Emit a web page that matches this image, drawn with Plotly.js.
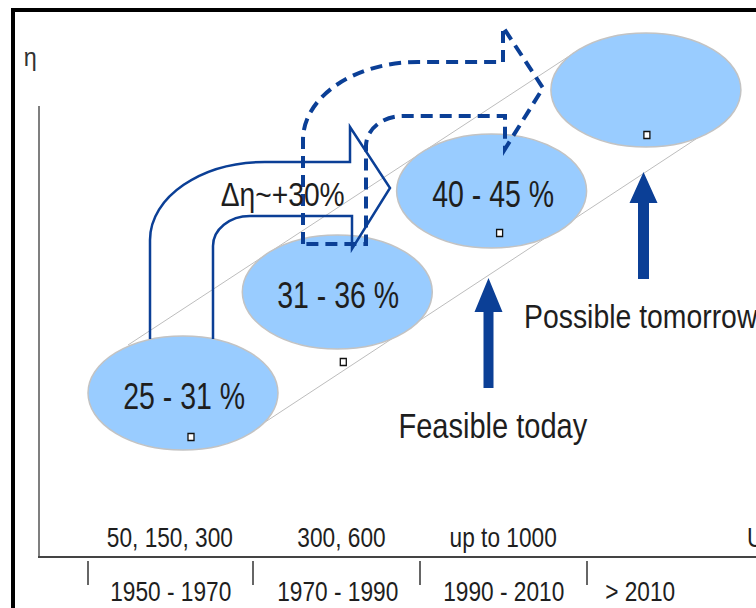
<!DOCTYPE html>
<html>
<head>
<meta charset="utf-8">
<script src="https://cdn.plot.ly/plotly-3.0.1.min.js"></script>
<style>html,body{margin:0;padding:0;background:#fff;}#chart{width:756px;height:608px;}</style>
</head>
<body>
<div id="chart"></div>
<script>
// ---- data ----
const periods = ["1950 - 1970", "1970 - 1990", "1990 - 2010", "> 2010"];
const capacities = ["50, 150, 300", "300, 600", "up to 1000", "U"];
const efficiencies = ["25 - 31 %", "31 - 36 %", "40 - 45 %", ""];
const deltaLabel = "\u0394\u03b7~+30%";
const axisLabel = "\u03b7";
const statusLabels = ["Feasible today", "Possible tomorrow"];

// ---- layout helpers (pixel-like coordinate system) ----
const FONT = "'Liberation Sans', Arial, sans-serif";
const BLUE = "#0B3F96";
const TXT = "#1e1e1e";
const ellCx = i => 183 + i * 154.3;
const ellCy = i => 393 - i * 101;
const RX = 95, RY = 57;
const markOff = [[8, 44], [6, 70], [8, 42], [1, 45]];
const periodCx = [170, 337, 503, 640];
const capCx = [170, 341, 503, 745];
const tickX = [88, 253, 420, 587];

const shapes = [];
const annotations = [];
const stretch = [];
function addText(x, y, text, size, sx, anchor, color) {
  annotations.push({x: x, y: y, text: text, showarrow: false,
    font: {family: FONT, size: size, color: color || TXT},
    xanchor: anchor || "center", yanchor: "middle"});
  stretch.push({sx: sx, anchor: anchor || "center"});
}

// frame
shapes.push({type: "rect", x0: 13, y0: 10, x1: 800, y1: 700, line: {color: "#000", width: 4}, layer: "above"});
// axes
shapes.push({type: "line", x0: 39, x1: 39, y0: 106, y1: 557, line: {color: "#555", width: 1.5}});
shapes.push({type: "line", x0: 38, x1: 760, y0: 557, y1: 557, line: {color: "#444", width: 2}});
tickX.forEach(x => shapes.push({type: "line", x0: x, x1: x, y0: 561, y1: 585, line: {color: "#333", width: 1.5}}));
// diagonal guide lines
shapes.push({type: "line", x0: 128, y0: 345, x1: 580, y1: 49, line: {color: "#bdbdbd", width: 1}});
shapes.push({type: "line", x0: 253, y0: 430, x1: 702, y1: 135, line: {color: "#bdbdbd", width: 1}});

// ellipses
efficiencies.forEach((lab, i) => {
  const cx = ellCx(i), cy = ellCy(i);
  shapes.push({type: "circle", x0: cx - RX, x1: cx + RX, y0: cy - RY, y1: cy + RY,
    fillcolor: "#99CCFF", line: {color: "#c3c3c3", width: 1.5}});
  const mx = cx + markOff[i][0], my = cy + markOff[i][1];
  shapes.push({type: "rect", x0: mx - 3, x1: mx + 3, y0: my - 3.5, y1: my + 3.5,
    fillcolor: "#fff", line: {color: "#111", width: 1.3}});
  if (lab) addText(cx + 1, cy + 3, lab, 37, 0.77);
});

// curved block arrow (outline)
function arrowPath(dx, dy, bottom, close) {
  const k = 0.5523;
  const X = v => (v + dx).toFixed(1), Y = v => (v + dy).toFixed(1);
  let p = `M ${X(150)} ${Y(bottom)} L ${X(150)} ${Y(240)} ` +
    `C ${X(150)} ${Y(240 - 78 * k)} ${X(265 - 115 * k)} ${Y(162)} ${X(265)} ${Y(162)} ` +
    `L ${X(350)} ${Y(162)} L ${X(350)} ${Y(127)} L ${X(390)} ${Y(188)} L ${X(352)} ${Y(249)} ` +
    `L ${X(352)} ${Y(216)} L ${X(250)} ${Y(216)} ` +
    `C ${X(250 - 37 * k)} ${Y(216)} ${X(213)} ${Y(246 - 30 * k)} ${X(213)} ${Y(246)} ` +
    `L ${X(213)} ${Y(bottom)}`;
  if (close) p += " Z";
  return p;
}
shapes.push({type: "path", path: arrowPath(153, -100, 344, true), line: {color: BLUE, width: 4, dash: "12px,7px"}});
shapes.push({type: "path", path: arrowPath(0, 0, 339, false), line: {color: BLUE, width: 2.5}});

// vertical block arrows
function upArrow(x, tip, base, headH, shaftW, headW) {
  const hb = tip + headH;
  return `M ${x - shaftW / 2} ${base} L ${x - shaftW / 2} ${hb} L ${x - headW / 2} ${hb} L ${x} ${tip} ` +
    `L ${x + headW / 2} ${hb} L ${x + shaftW / 2} ${hb} L ${x + shaftW / 2} ${base} Z`;
}
shapes.push({type: "path", path: upArrow(488.5, 278, 388, 34, 10, 28), fillcolor: BLUE, line: {width: 0}});
shapes.push({type: "path", path: upArrow(643.5, 172, 279, 31, 11, 28), fillcolor: BLUE, line: {width: 0}});

// texts
addText(30, 57, axisLabel, 26, 0.9, "center", "#333");
periods.forEach((t, i) => addText(periodCx[i], 591, t, 28, 0.81, "center"));
capacities.forEach((t, i) => addText(capCx[i], 537, t, 28, 0.81, i === 3 ? "left" : "center"));
addText(282, 194, deltaLabel, 34, 0.83);
addText(493, 425, statusLabels[0], 35, 0.83);
addText(522, 316, statusLabels[1], 33, 0.86, "left");

const layout = {
  width: 756, height: 608,
  margin: {l: 0, r: 0, t: 0, b: 0},
  paper_bgcolor: "#fff", plot_bgcolor: "#fff",
  xaxis: {range: [0, 756], visible: false, fixedrange: true},
  yaxis: {range: [608, 0], visible: false, fixedrange: true},
  showlegend: false,
  shapes: shapes,
  annotations: annotations
};
Plotly.newPlot("chart", [{x: [], y: [], type: "scatter"}], layout, {staticPlot: true, displayModeBar: false})
  .then(gd => {
    // horizontally condense annotation texts to imitate a narrow typeface
    gd.querySelectorAll("g.annotation").forEach(g => {
      const idx = +g.getAttribute("data-index");
      const st = stretch[idx];
      const t = g.querySelector("text.annotation-text");
      if (!st || !t) return;
      const bb = t.getBBox();
      const px = st.anchor === "left" ? bb.x : bb.x + bb.width / 2;
      t.setAttribute("transform", `translate(${px},0) scale(${st.sx},1) translate(${-px},0)`);
    });
  });
</script>
</body>
</html>
